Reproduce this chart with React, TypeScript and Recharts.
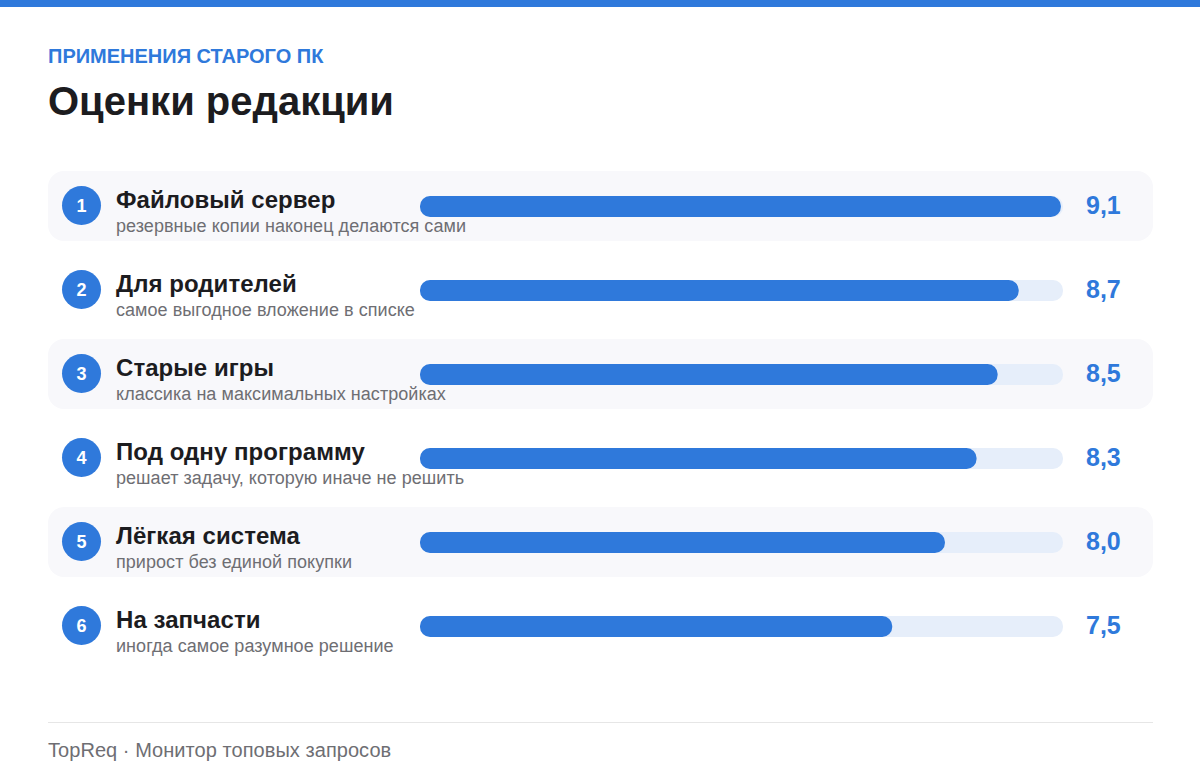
import React from "react";
import { BarChart, Bar, XAxis, YAxis } from "recharts";

const titles = [
  "Файловый сервер",
  "Для родителей",
  "Старые игры",
  "Под одну программу",
  "Лёгкая система",
  "На запчасти",
];
const notes = [
  "резервные копии наконец делаются сами",
  "самое выгодное вложение в списке",
  "классика на максимальных настройках",
  "решает задачу, которую иначе не решить",
  "прирост без единой покупки",
  "иногда самое разумное решение",
];
const scores = [9.1, 8.7, 8.5, 8.3, 8.0, 7.5];

const data = titles.map((title, i) => ({
  title,
  score: scores[i],
  scoreLabel: scores[i].toFixed(1).replace(".", ","),
}));

const BLUE = "#2f79db";
const FONT = "'Liberation Sans', Arial, sans-serif";

// zebra band for the row plus the pale track behind the bar
const RowBackground = ({ x, y, width, height, index }: any) => (
  <g>
    {index % 2 === 0 && (
      <rect x={48} y={y + height / 2 - 35.5} width={1105} height={70} rx={16} fill="#f8f8fb" />
    )}
    <rect x={x} y={y} width={width} height={height} rx={10} fill="#e6eefa" />
  </g>
);

const RowTick = ({ y, payload }: any) => {
  const i = titles.indexOf(payload.value);
  return (
    <g>
      <circle cx={81.5} cy={y - 0.5} r={19.5} fill={BLUE} />
      <text x={81.5} y={y + 6} textAnchor="middle" fontSize={18} fontWeight={700} fill="#fff">
        {i + 1}
      </text>
      <text x={116} y={y + 2} fontSize={24} letterSpacing={0.05} fontWeight={700} fill="#1c1c1f">
        {payload.value}
      </text>
      <text x={116} y={y + 26} fontSize={18} letterSpacing={0.05} fill="#6e6e73">
        {notes[i]}
      </text>
    </g>
  );
};

const ScoreTick = ({ y, payload }: any) => (
  <text x={1086} y={y + 8} fontSize={25} fontWeight={700} fill={BLUE}>
    {payload.value}
  </text>
);

export default function App() {
  return (
    <div style={{ position: "absolute", left: 0, top: 0, width: 1200, height: 784, background: "#fff", fontFamily: FONT, overflow: "hidden" }}>
      <div style={{ height: 7, background: BLUE }} />
      <div style={{ position: "absolute", left: 48, top: 45, fontSize: 20, fontWeight: 700, color: BLUE }}>
        ПРИМЕНЕНИЯ СТАРОГО ПК
      </div>
      <div style={{ position: "absolute", left: 48, top: 79, fontSize: 40, fontWeight: 700, color: "#1c1c1f" }}>
        Оценки редакции
      </div>
      <div style={{ position: "absolute", left: 0, top: 164 }}>
        <BarChart
          width={1200}
          height={504}
          data={data}
          layout="vertical"
          margin={{ top: 0, right: 0, bottom: 0, left: 0 }}
          barSize={21}
          style={{ fontFamily: FONT }}
        >
          <XAxis type="number" domain={[3.02, 9.12]} hide />
          <YAxis
            yAxisId="rows"
            type="category"
            dataKey="title"
            width={420}
            axisLine={false}
            tickLine={false}
            interval={0}
            tick={<RowTick />}
          />
          <YAxis
            yAxisId="scores"
            orientation="right"
            type="category"
            dataKey="scoreLabel"
            width={137}
            axisLine={false}
            tickLine={false}
            interval={0}
            tick={<ScoreTick />}
          />
          <Bar
            yAxisId="rows"
            dataKey="score"
            fill={BLUE}
            radius={10}
            background={(props: any) => <RowBackground key={props.index} {...props} />}
            isAnimationActive={false}
          />
        </BarChart>
      </div>
      <div style={{ position: "absolute", left: 48, top: 722, width: 1105, borderTop: "1px solid #e6e6e6" }} />
      <div style={{ position: "absolute", left: 48, top: 739, fontSize: 20, letterSpacing: 0.05, color: "#6e6e73" }}>
        TopReq · Монитор топовых запросов
      </div>
    </div>
  );
}
